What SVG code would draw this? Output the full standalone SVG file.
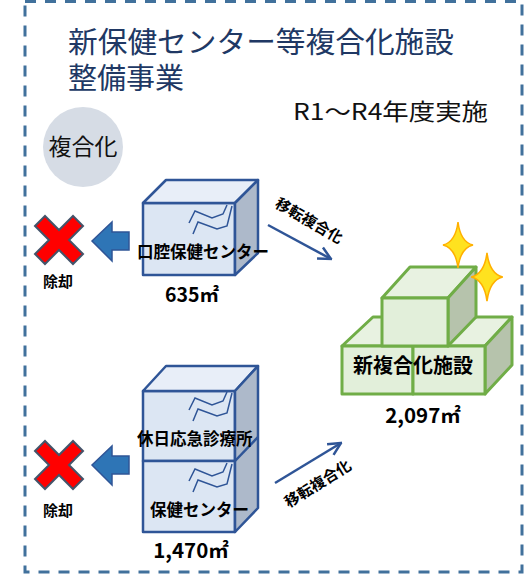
<svg xmlns="http://www.w3.org/2000/svg" width="524" height="577" viewBox="0 0 524 577">
  <defs>
    <style>
      .title { font-family: "Noto Sans CJK JP", "Noto Sans", sans-serif; fill: #203864; font-size: 29px; }
      .jp { font-family: "Noto Sans CJK JP", "Noto Sans", sans-serif; fill: #111; }
      .lbl { font-family: "Noto Sans CJK JP", "Noto Sans", sans-serif; font-weight: bold; fill: #000; }
      .blue-front { fill: #DCE6F3; stroke: #2F5597; stroke-width: 2.5; stroke-linejoin: round; }
      .blue-top { fill: #E8EEF8; stroke: #2F5597; stroke-width: 2.5; stroke-linejoin: round; }
      .blue-side { fill: #ADB9CA; stroke: #2F5597; stroke-width: 2.5; stroke-linejoin: round; }
      .crack { fill: none; stroke: #2F5597; stroke-width: 1.5; stroke-linejoin: miter; }
      .green-front { fill: #E2EFDA; stroke: #70AD47; stroke-width: 3; stroke-linejoin: round; }
      .green-top { fill: #E8F2E1; stroke: #70AD47; stroke-width: 3; stroke-linejoin: round; }
      .green-side { fill: #B6C3AC; stroke: #70AD47; stroke-width: 3; stroke-linejoin: round; }
      .cross { fill: #FF0000; stroke: #44546A; stroke-width: 2; stroke-linejoin: miter; }
      .left-arrow { fill: #2E75B6; stroke: #2F5597; stroke-width: 1.5; }
      .move { fill: none; stroke: #2F5597; stroke-width: 2.5; }
      .star { fill: #FFE21F; stroke: #FFB000; stroke-width: 1.5; }
    </style>
    <marker id="openHead" viewBox="0 0 12 12" refX="11" refY="6" markerWidth="6" markerHeight="6" orient="auto" markerUnits="strokeWidth">
      <polyline points="1,1 11,6 1,11" fill="none" stroke="#2F5597" stroke-width="2"/>
    </marker>
    <polygon id="xmark" points="-24,-14 -14,-24 0,-10 14,-24 24,-14 10,0 24,14 14,24 0,10 -14,24 -24,14 -10,0"/>
    <polygon id="leftArrow" points="0,0 20,-19 20,-9 37,-9 37,9 20,9 20,20"/>
    <path id="star4" d="M0,-23 Q2.5,-3 15,0 Q2.5,3 0,23 Q-2.5,3 -15,0 Q-2.5,-3 0,-23 Z"/>
  </defs>

  <!-- dashed frame -->
  <rect x="25" y="1.5" width="497" height="570.5" fill="none" stroke="#41719C" stroke-width="3" stroke-dasharray="11 9"/>

  <!-- heading -->
  <g id="heading">
    <text class="title"><tspan x="68" y="53" textLength="386" lengthAdjust="spacingAndGlyphs">新保健センター等複合化施設</tspan><tspan x="68" y="89">整備事業</tspan></text>
    <text class="jp" x="293" y="120" font-size="23" textLength="195" lengthAdjust="spacingAndGlyphs">R1～R4年度実施</text>
  </g>

  <!-- badge -->
  <g id="badge">
    <circle cx="83" cy="147" r="40" fill="#D6DCE5"/>
    <text class="jp" x="83" y="155" font-size="23" text-anchor="middle">複合化</text>
  </g>

  <!-- demolition marks -->
  <g id="demolish-1">
    <use href="#xmark" class="cross" transform="translate(59,240)"/>
    <text class="lbl" x="58" y="287" font-size="15" text-anchor="middle">除却</text>
  </g>
  <g id="demolish-2">
    <use href="#xmark" class="cross" transform="translate(59,465)"/>
    <text class="lbl" x="58" y="516" font-size="15" text-anchor="middle">除却</text>
  </g>

  <!-- oral health centre -->
  <g id="oral-health-centre">
    <rect class="blue-front" x="143" y="203" width="92" height="72"/>
    <polygon class="blue-top" points="143,203 166,180 258,180 235,203"/>
    <polygon class="blue-side" points="235,203 258,180 258,253 235,275"/>
    <polyline class="crack" points="189,223 195,211 212,218 223,214 227,205"/>
    <polyline class="crack" points="193,234 198,222 217,229 227,226 232,206"/>
    <text class="lbl" x="137" y="258" font-size="16.5">口腔保健センター</text>
    <text class="lbl" x="192" y="302" font-size="19.5" text-anchor="middle">635㎡</text>
  </g>

  <!-- holiday clinic + health centre -->
  <g id="clinic-and-health-centre">
    <rect class="blue-front" x="143" y="391" width="92" height="70"/>
    <rect class="blue-front" x="143" y="461" width="92" height="71"/>
    <polygon class="blue-top" points="143,391 166,366 258,366 235,391"/>
    <polygon class="blue-side" points="235,391 258,366 258,508 235,532"/>
    <line x1="235" y1="461" x2="258" y2="437" stroke="#2F5597" stroke-width="2.5"/>
    <polyline class="crack" points="189,410 195,398 212,405 223,401 227,392"/>
    <polyline class="crack" points="193,421 198,409 217,416 227,413 232,393"/>
    <polyline class="crack" points="189,481 195,469 212,476 223,472 227,463"/>
    <polyline class="crack" points="193,492 198,480 217,487 227,484 232,464"/>
    <text class="lbl" x="137" y="445" font-size="16.5">休日応急診療所</text>
    <text class="lbl" x="150" y="516" font-size="16.5">保健センター</text>
    <text class="lbl" x="191" y="558" font-size="20.5" text-anchor="middle">1,470㎡</text>
  </g>

  <!-- new complex -->
  <g id="new-complex">
    <polygon class="green-top" points="342,346 373,317 512,317 485,346"/>
    <polygon class="green-side" points="485,346 512,317 512,365 485,394"/>
    <rect class="green-front" x="342" y="346" width="71" height="48"/>
    <rect class="green-front" x="413" y="346" width="72" height="48"/>
    <polygon class="green-top" points="382,298 410,267 476,267 448,298"/>
    <polygon class="green-side" points="448,298 476,267 476,317 448,346"/>
    <rect class="green-front" x="382" y="298" width="66" height="48"/>
    <text class="lbl" x="413" y="373" font-size="20" text-anchor="middle">新複合化施設</text>
    <text class="lbl" x="423" y="423" font-size="20.5" text-anchor="middle">2,097㎡</text>
    <use href="#star4" class="star" transform="translate(458,245)"/>
    <use href="#star4" class="star" transform="translate(487,277) scale(1.05)"/>
  </g>

  <!-- connectors -->
  <g id="connectors">
    <use href="#leftArrow" class="left-arrow" transform="translate(92,241)"/>
    <use href="#leftArrow" class="left-arrow" transform="translate(92,465)"/>
    <line class="move" x1="268" y1="225" x2="331" y2="259" marker-end="url(#openHead)"/>
    <line class="move" x1="275" y1="483" x2="341" y2="443" marker-end="url(#openHead)"/>
    <text class="lbl" font-size="15" text-anchor="middle" transform="translate(309,221) rotate(30)" y="5">移転複合化</text>
    <text class="lbl" font-size="15" text-anchor="middle" transform="translate(318,484) rotate(-32)" y="5">移転複合化</text>
  </g>
</svg>
